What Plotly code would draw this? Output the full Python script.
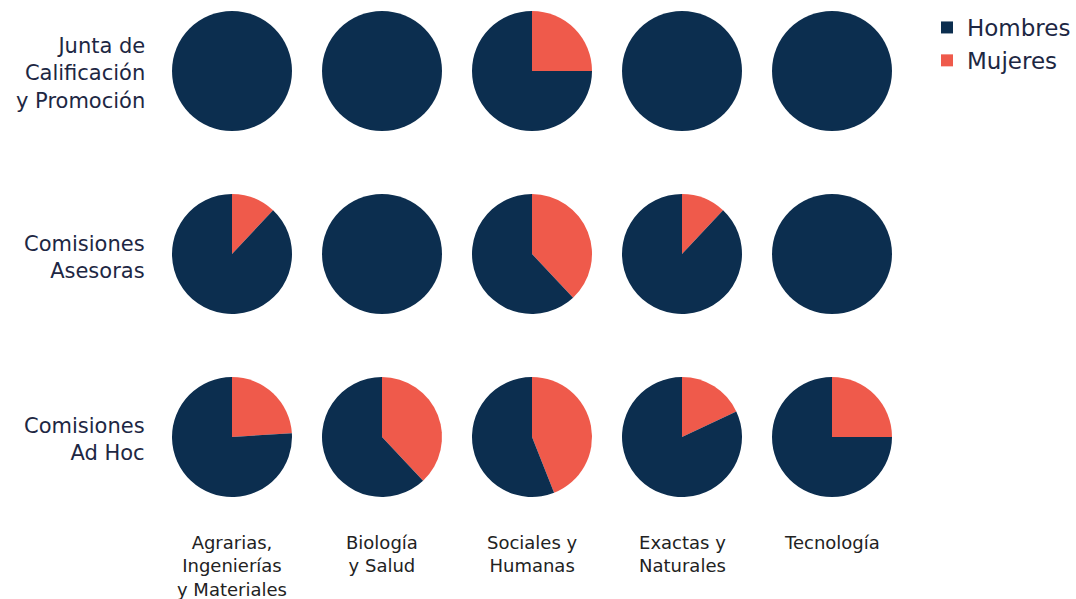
import plotly.graph_objects as go

areas = ["Agrarias,<br>Ingenierías<br>y Materiales", "Biología<br>y Salud", "Sociales y<br>Humanas", "Exactas y<br>Naturales", "Tecnología"]
bodies = ["Junta de<br>Calificación<br>y Promoción", "Comisiones<br>Asesoras", "Comisiones<br>Ad Hoc"]
labels = ["Mujeres", "Hombres"]

# percentage of women per body (rows) and area (columns)
mujeres = [
    [0, 0, 25, 0, 0],
    [12, 0, 38, 12, 0],
    [24, 38, 44, 18, 25],
]
hombres = [[100 - v for v in row] for row in mujeres]

colors = ["#ef5a4b", "#0c2e4f"]
W, H = 1076, 599
col_cx = [232, 382, 532, 682, 832]
row_cy = [71, 254, 437]
R = 60

fig = go.Figure()
for i, body in enumerate(bodies):
    for j, area in enumerate(areas):
        cx, cy = col_cx[j], row_cy[i]
        fig.add_trace(go.Pie(
            labels=labels,
            values=[mujeres[i][j], hombres[i][j]],
            marker=dict(colors=colors, line=dict(width=0)),
            sort=False,
            direction="clockwise",
            rotation=0,
            textinfo="none",
            hoverinfo="label+percent",
            domain=dict(x=[(cx - R) / W, (cx + R) / W], y=[1 - (cy + R) / H, 1 - (cy - R) / H]),
            showlegend=(i == 0 and j == 2),
        ))

annotations = []
for i, body in enumerate(bodies):
    annotations.append(dict(
        x=147 / W, y=1 - (row_cy[i] + 3) / H, xref="paper", yref="paper",
        xanchor="right", yanchor="middle", align="right",
        text=body, showarrow=False,
        font=dict(family="DejaVu Sans", size=21, color="#1d2743"),
    ))
for j, area in enumerate(areas):
    annotations.append(dict(
        x=col_cx[j] / W, y=1 - 530 / H, xref="paper", yref="paper",
        xanchor="center", yanchor="top", align="center",
        text=area, showarrow=False,
        font=dict(family="DejaVu Sans", size=18, color="#222222"),
    ))

fig.update_layout(
    width=W, height=H,
    margin=dict(l=0, r=0, t=0, b=0),
    paper_bgcolor="white", plot_bgcolor="white",
    annotations=annotations,
    legend=dict(
        x=927 / W, y=1 - 6 / H, xanchor="left", yanchor="top",
        traceorder="reversed",
        font=dict(family="DejaVu Sans", size=23, color="#1d2743"),
        itemsizing="constant",
    ),
)
fig.write_html("out.html")
